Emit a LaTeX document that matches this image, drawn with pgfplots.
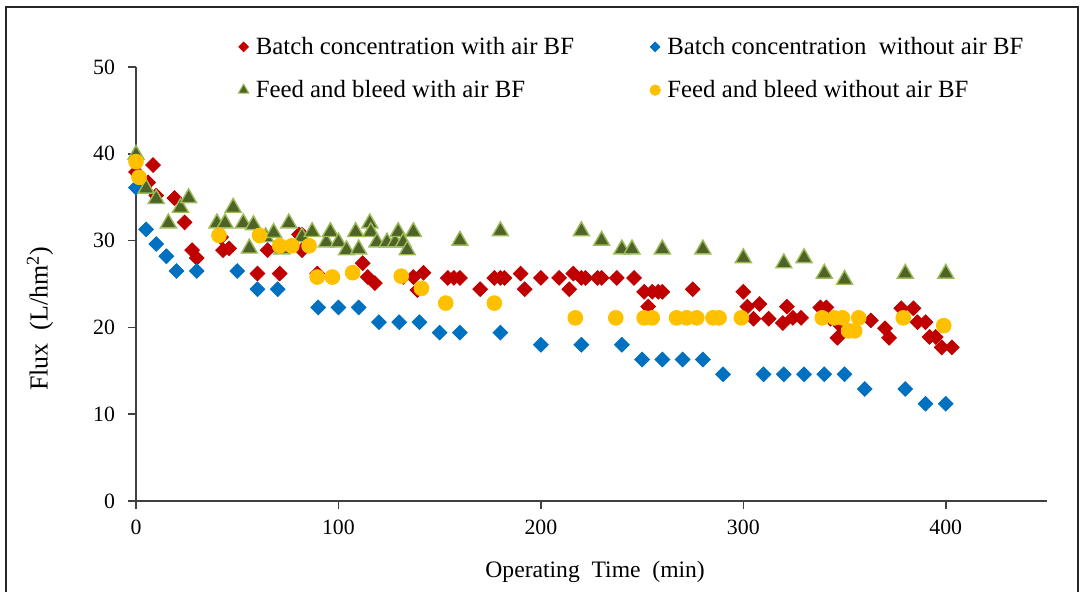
\documentclass[border=0pt]{standalone}
\usepackage{fontspec}
\setmainfont{Liberation Serif}
\usepackage{pgfplots}
\pgfplotsset{compat=1.18}
\definecolor{cred}{HTML}{C00000}
\definecolor{cblue}{HTML}{0070C0}
\definecolor{cgreen}{HTML}{4F6228}
\definecolor{cgreenedge}{HTML}{9BBB59}
\definecolor{cyellow}{HTML}{FFC000}
\definecolor{caxis}{HTML}{404040}

\begin{document}
\begin{tikzpicture}
\begin{axis}[
  at={(0,0)}, anchor=south west,
  scale only axis, width=455.5pt, height=217pt,
  xmin=0, xmax=450, ymin=0, ymax=50,
  clip=false,
  axis x line*=bottom, axis y line*=left,
  axis line style={caxis, line width=0.8pt},
  xtick={0,100,200,300,400}, ytick={0,10,20,30,40,50},
  tick align=outside, major tick length=4pt,
  tick style={caxis, line width=0.8pt},
  minor tick num=0,
  /pgf/number format/assume math mode=true,
  tick label style={font=\fontsize{10.9}{12}\selectfont},
  xticklabel style={yshift=-2pt},
  yticklabel style={xshift=-3pt},
  xlabel={Operating\ \ Time\ \ (min)},
  ylabel={Flux\ \ (L/hm\textsuperscript{2})},
  label style={font=\fontsize{11.8}{13}\selectfont},
  xlabel style={at={(axis description cs:0.504,-0.1636)}, anchor=center},
  ylabel style={at={(axis description cs:-0.1054,0.42)}, anchor=center, font=\fontsize{13}{14}\selectfont},
  legend columns=2,
  legend cell align=left,
  legend image code/.code={\draw[#1] plot coordinates {(0pt,0pt)};},
  legend style={draw=none, fill=none, inner sep=0pt,
    at={(axis description cs:0.112,0.9965)}, anchor=west,
    font=\fontsize{12.4}{14}\selectfont,
    row sep=7.5pt,
    /tikz/every odd column/.append style={column sep=1.5pt},
    /tikz/every even column/.append style={column sep=36pt}},
]
% Batch concentration with air BF (red)
\addplot[only marks, mark=square*, mark size=2.6pt, color=cred, mark options={rotate=45, fill=cred, draw=cred}, forget plot] table {
x y
0 37.9
6 36.7
8.4 38.7
10 35.2
19 34.9
24 32.1
27.7 28.9
30 28.0
42 30.4
43 28.9
46 29.1
60 26.2
65 28.9
71 26.2
80.5 30.7
82 30.7
82 28.9
89.5 26.2
112 27.4
114.5 25.8
118 25.1
132 25.8
137 25.8
139 24.3
142 26.3
154 25.7
157 25.7
160 25.7
170 24.4
177 25.7
180 25.7
182 25.7
190 26.2
192 24.4
200 25.7
209 25.7
214 24.4
216 26.2
220 25.7
222 25.7
228 25.7
230 25.7
237.5 25.7
246 25.7
251 24.1
253 22.4
255 24.1
258 24.1
260 24.1
275 24.4
300 24.1
302 22.4
305 21.0
308 22.7
312.5 21.0
319.5 20.5
321.5 22.4
324.5 21.1
328.5 21.1
338 22.3
341 22.3
343 21.0
346.5 18.8
348 20.2
363 20.8
370 19.9
372 18.8
378 22.2
384 22.2
386 20.6
390 20.6
392 18.9
395 18.9
398 17.7
403 17.7
};
% Batch concentration without air BF (blue)
\addplot[only marks, mark=square*, mark size=2.6pt, color=cblue, mark options={rotate=45, fill=cblue, draw=cblue}, forget plot] table {
x y
0 36.1
5 31.3
10 29.6
15 28.2
20 26.5
30 26.5
50 26.5
60 24.4
70 24.4
90 22.3
100 22.3
110 22.3
120 20.6
130 20.6
140 20.6
150 19.4
160 19.4
180 19.4
200 18.0
220 18.0
240 18.0
250 16.3
260 16.3
270 16.3
280 16.3
290 14.6
310 14.6
320 14.6
330 14.6
340 14.6
350 14.6
360 12.9
380 12.9
390 11.2
400 11.2
};
% Feed and bleed with air BF (green)
\addplot[only marks, mark=triangle*, mark size=4.6pt, mark options={fill=cgreen, draw=cgreenedge, line width=0.7pt}, forget plot] table {
x y
0 39.9
5 36.0
10 34.8
16 32.0
22 33.8
26 34.9
40 32.0
44 32.0
48 33.8
53 32.0
56 29.1
58 31.8
64 30.4
68 30.9
72 29.0
75.5 32.0
82 30.4
87 31.0
94 29.8
96 31.0
100 29.8
104 28.9
108.5 31.0
110 29.0
115.5 32.0
116 31.0
119 29.8
124 29.8
128 29.8
129.5 31.0
132 29.8
134 28.9
137 31.0
160 30.0
180 31.1
220 31.1
230 30.0
240 29.0
245 29.0
260 29.0
280 29.0
300 28.0
320 27.4
330 28.0
340 26.2
350 25.5
380 26.2
400 26.2
};
% Feed and bleed without air BF (yellow)
\addplot[only marks, mark=*, mark size=3.7pt, mark options={fill=cyellow, draw=cyellow}, forget plot] table {
x y
0 39.1
1.5 37.3
41 30.6
61 30.6
71 29.4
77 29.4
85.5 29.4
89.5 25.8
97 25.8
107 26.3
131 25.9
141 24.5
153 22.8
177 22.8
217 21.1
237 21.1
251 21.1
255 21.1
267 21.1
272 21.1
277 21.1
285 21.1
288 21.1
299 21.1
339 21.1
345 21.1
349 21.1
352 19.6
355 19.6
357 21.1
379 21.1
399 20.2
};
\addlegendimage{only marks, mark=square*, mark size=1.7pt, color=cred, mark options={rotate=45, fill=cred, draw=cred}}
\addlegendentry{Batch concentration with air BF}
\addlegendimage{only marks, mark=square*, mark size=1.7pt, color=cblue, mark options={rotate=45, fill=cblue, draw=cblue}}
\addlegendentry{Batch concentration\ \ without air BF}
\addlegendimage{only marks, mark=triangle*, mark size=3pt, mark options={fill=cgreen, draw=cgreenedge, line width=0.5pt}}
\addlegendentry{Feed and bleed with air BF}
\addlegendimage{only marks, mark=*, mark size=2.6pt, mark options={fill=cyellow, draw=cyellow}}
\addlegendentry{Feed and bleed without air BF}
\end{axis}
\draw[black!85, line width=0.9pt] (-65pt,-46pt) -- (-65pt,247pt) -- (471pt,247pt) -- (471pt,-46pt);
\pgfresetboundingbox
\path (-68pt,-45.5pt) rectangle (473.5pt,250.5pt);
\end{tikzpicture}
\end{document}
